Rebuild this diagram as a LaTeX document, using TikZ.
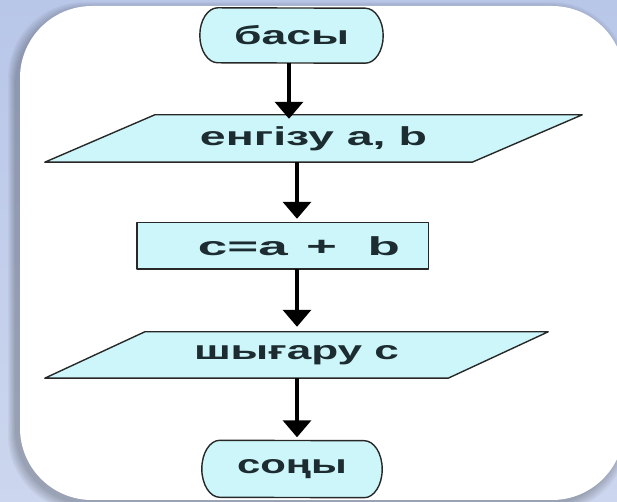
\documentclass[tikz,border=0pt]{standalone}
\usepackage{fontspec}
\setmainfont{Liberation Sans}
\usepackage{graphicx}
\usetikzlibrary{arrows.meta,calc}
\pgfdeclarelayer{back}
\pgfdeclarelayer{shapes}
\pgfsetlayers{back,shapes,main}
\definecolor{bgtop}{RGB}{184,198,232}
\definecolor{bgbot}{RGB}{204,214,238}
\definecolor{boxfill}{RGB}{204,246,249}
\definecolor{ink}{RGB}{28,44,48}
\definecolor{edge}{RGB}{40,40,40}
\begin{document}
\begin{tikzpicture}[x=1pt,y=1pt,
  txt/.style={inner sep=0pt, text=ink, font=\fontsize{26pt}{28pt}\selectfont\bfseries},
  term/.style={txt, minimum width=183pt, minimum height=55pt},
  outline/.style={draw=edge, line width=1.4pt, fill=boxfill, line join=round},
  arr/.style={line width=3.5pt, draw=black, -{Triangle[width=28pt,length=17pt]}}
]
\useasboundingbox (0,0) rectangle (617,502);
\begin{pgfonlayer}{back}
  \shade[top color=bgtop, bottom color=bgbot] (0,0) rectangle (617,502);
  \foreach \d in {1,...,8}{
    \fill[black, opacity=0.03, rounded corners=76pt] (16-\d,-2-\d) rectangle (620+\d,492+\d);
  }
  \fill[white, rounded corners=72pt] (20,2) rectangle (624,496);
\end{pgfonlayer}

\node[term] (bas) at (291.5,466.5) {\raisebox{-2pt}{\resizebox{115pt}{\height}{басы}}};
\node[txt, minimum width=427pt, minimum height=47pt] (in1) at (313.5,363.5) {\resizebox{227pt}{\height}{енгізу a, b}};
\node[txt, minimum width=291pt, minimum height=46pt] (calc) at (282.5,256) {\hspace*{33pt}\resizebox{202pt}{\height}{c=a\hspace{9pt}+\hspace{15pt}b}};
\node[txt, minimum width=403pt, minimum height=46pt] (out) at (296.5,147) {\resizebox{205pt}{\height}{шығару c}};
\node[term, minimum width=180pt, minimum height=57pt] (son) at (292,33) {\resizebox{110pt}{\height}{соңы}};

\begin{pgfonlayer}{shapes}
  \draw[outline] ([xshift=18pt]bas.north west) arc[start angle=90,end angle=270,x radius=18pt,y radius=27.5pt]
     -- ([xshift=-18pt]bas.south east) arc[start angle=-90,end angle=90,x radius=18pt,y radius=27.5pt] -- cycle;
  \draw[outline] ([xshift=55pt]in1.north west) -- ([xshift=55pt]in1.north east)
     -- ([xshift=-55pt]in1.south east) -- ([xshift=-55pt]in1.south west) -- cycle;
  \draw[outline] (calc.north west) rectangle (calc.south east);
  \draw[outline] ([xshift=50pt]out.north west) -- ([xshift=50pt]out.north east)
     -- ([xshift=-50pt]out.south east) -- ([xshift=-50pt]out.south west) -- cycle;
  \draw[outline] ([xshift=18pt]son.north west) arc[start angle=90,end angle=270,x radius=18pt,y radius=28.5pt]
     -- ([xshift=-18pt]son.south east) arc[start angle=-90,end angle=90,x radius=18pt,y radius=28.5pt] -- cycle;
\end{pgfonlayer}

\coordinate (s1) at (289,0);
\coordinate (s2) at (297,0);
\draw[arr] (bas.south -| s1) -- ($(in1.north -| s1)+(0,-4)$);
\draw[arr] (in1.south -| s2) -- ($(calc.north -| s2)+(0,4)$);
\draw[arr] (calc.south -| s2) -- ($(out.north -| s2)+(0,5)$);
\draw[arr] (out.south -| s2) -- ($(son.north -| s2)+(0,3)$);
\end{tikzpicture}
\end{document}
